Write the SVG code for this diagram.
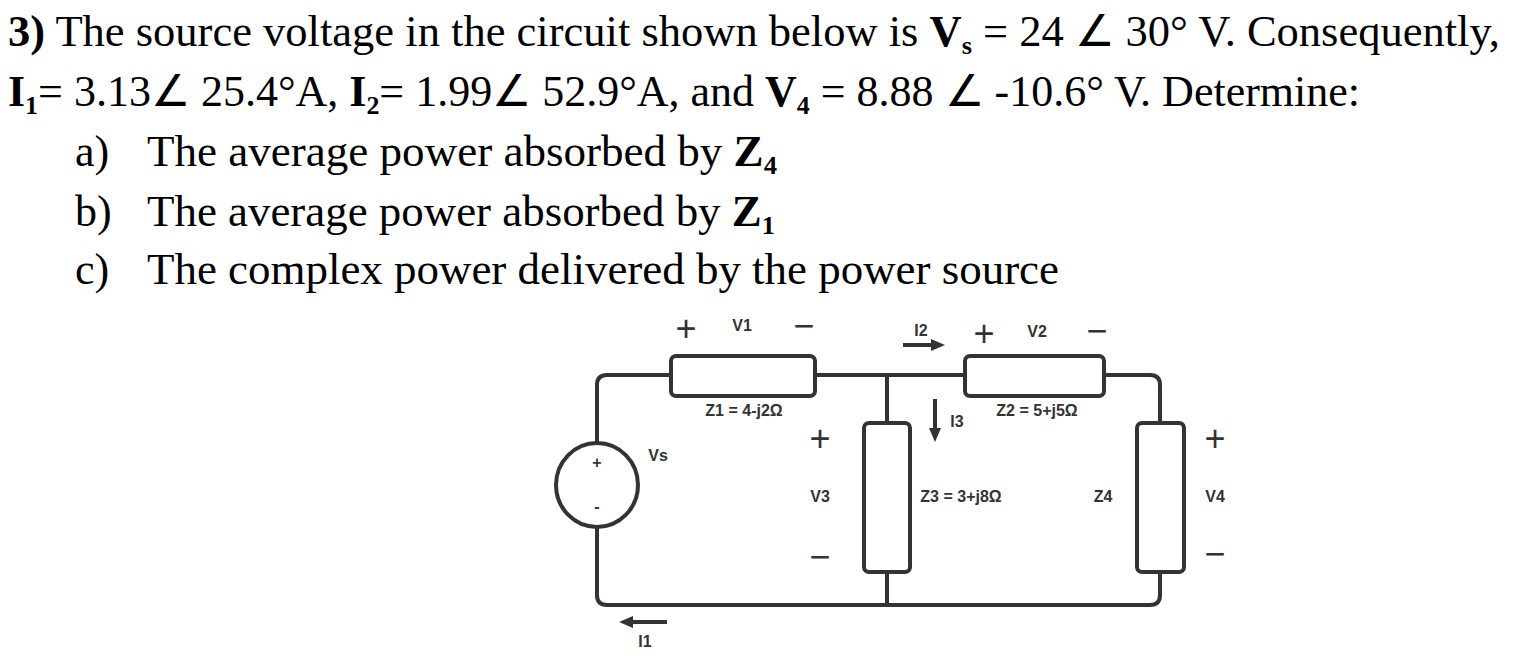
<svg xmlns="http://www.w3.org/2000/svg" width="1520" height="660" viewBox="0 0 1520 660">
<style>
.q{font-family:"Liberation Serif",serif;font-size:44px;fill:#000}
.l{font-family:"Liberation Sans",sans-serif;font-size:16px;font-weight:bold;fill:#333;text-anchor:middle}
.s{font-family:"Liberation Sans",sans-serif;font-size:36px;fill:#333;text-anchor:middle}
.w{fill:none;stroke:#333;stroke-width:4}
.r{fill:#fff;stroke:#333;stroke-width:4}
.a{stroke:#333;stroke-width:4;marker-end:url(#ah)}
</style>
<defs><marker id="ah" markerWidth="14" markerHeight="12" refX="4" refY="6" orient="auto" markerUnits="userSpaceOnUse"><path d="M0,0L14,6L0,12z" fill="#333"/></marker></defs>
<rect width="1520" height="660" fill="#fff"/>
<g id="text">
<text class="q" x="8" y="46" textLength="1492" lengthAdjust="spacingAndGlyphs"><tspan font-weight="bold">3)</tspan> The source voltage in the circuit shown below is <tspan font-weight="bold">V</tspan><tspan font-weight="bold" font-size="26" dy="8">s</tspan><tspan dy="-8"> = 24 ∠ 30° V. Consequently,</tspan></text>
<text class="q" x="8" y="106" textLength="1352" lengthAdjust="spacingAndGlyphs"><tspan font-weight="bold">I</tspan><tspan font-weight="bold" font-size="26" dy="8">1</tspan><tspan dy="-8">= 3.13∠ 25.4°A, </tspan><tspan font-weight="bold">I</tspan><tspan font-weight="bold" font-size="26" dy="8">2</tspan><tspan dy="-8">= 1.99∠ 52.9°A, and </tspan><tspan font-weight="bold">V</tspan><tspan font-weight="bold" font-size="26" dy="8">4</tspan><tspan dy="-8"> = 8.88 ∠ -10.6° V. Determine:</tspan></text>
<text class="q" x="75" y="166">a)</text><text class="q" x="147" y="166" textLength="630" lengthAdjust="spacingAndGlyphs">The average power absorbed by <tspan font-weight="bold">Z</tspan><tspan font-weight="bold" font-size="26" dy="8">4</tspan></text>
<text class="q" x="75" y="226">b)</text><text class="q" x="147" y="226" textLength="628" lengthAdjust="spacingAndGlyphs">The average power absorbed by <tspan font-weight="bold">Z</tspan><tspan font-weight="bold" font-size="26" dy="8">1</tspan></text>
<text class="q" x="75" y="284">c)</text><text class="q" x="147" y="284" textLength="912" lengthAdjust="spacingAndGlyphs">The complex power delivered by the power source</text>
</g>
<g id="wires">
<path class="w" d="M597,443V385Q597,375 607,375H671M815,375H965M1104,375H1150Q1160,375 1160,385V423"/>
<path class="w" d="M597,527V595Q597,605 607,605H1150Q1160,605 1160,595V572"/>
<path class="w" d="M887,375V423M887,572V605"/>
</g>
<g id="source"><ellipse cx="597" cy="485" rx="41" ry="42" fill="#fff" stroke="#333" stroke-width="4"/><text class="l" x="597" y="468" font-size="14">+</text><text class="l" x="597" y="512" font-size="14">-</text><text class="l" x="658" y="461">Vs</text></g>
<g id="Z1"><rect class="r" x="671" y="356" width="144" height="40" rx="5"/><text class="l" x="744" y="416">Z1 = 4-j2Ω</text></g>
<g id="Z2"><rect class="r" x="965" y="356" width="139" height="40" rx="5"/><text class="l" x="1037" y="416">Z2 = 5+j5Ω</text></g>
<g id="Z3"><rect class="r" x="864" y="423" width="46" height="149" rx="5"/><text class="l" x="961" y="502">Z3 = 3+j8Ω</text></g>
<g id="Z4"><rect class="r" x="1137" y="423" width="47" height="149" rx="5"/><text class="l" x="1103" y="502">Z4</text></g>
<g id="labels">
<text class="s" x="686" y="341">+</text><text class="l" x="742" y="331">V1</text><text class="s" x="804" y="338">−</text>
<text class="l" x="921" y="336">I2</text><text class="s" x="984" y="346">+</text><text class="l" x="1037" y="337">V2</text><text class="s" x="1097" y="343">−</text>
<text class="l" x="957" y="427">I3</text>
<text class="s" x="820" y="451">+</text><text class="l" x="820" y="502">V3</text><text class="s" x="820" y="569">−</text>
<text class="s" x="1215" y="451">+</text><text class="l" x="1215" y="502">V4</text><text class="s" x="1215" y="566">−</text>
<text class="l" x="645" y="647">I1</text>
</g>
<g id="connectors">
<line class="a" x1="903" y1="345" x2="935" y2="345"/>
<line class="a" x1="935" y1="399" x2="935" y2="432"/>
<line class="a" x1="667" y1="622" x2="629" y2="622"/>
</g>
</svg>
